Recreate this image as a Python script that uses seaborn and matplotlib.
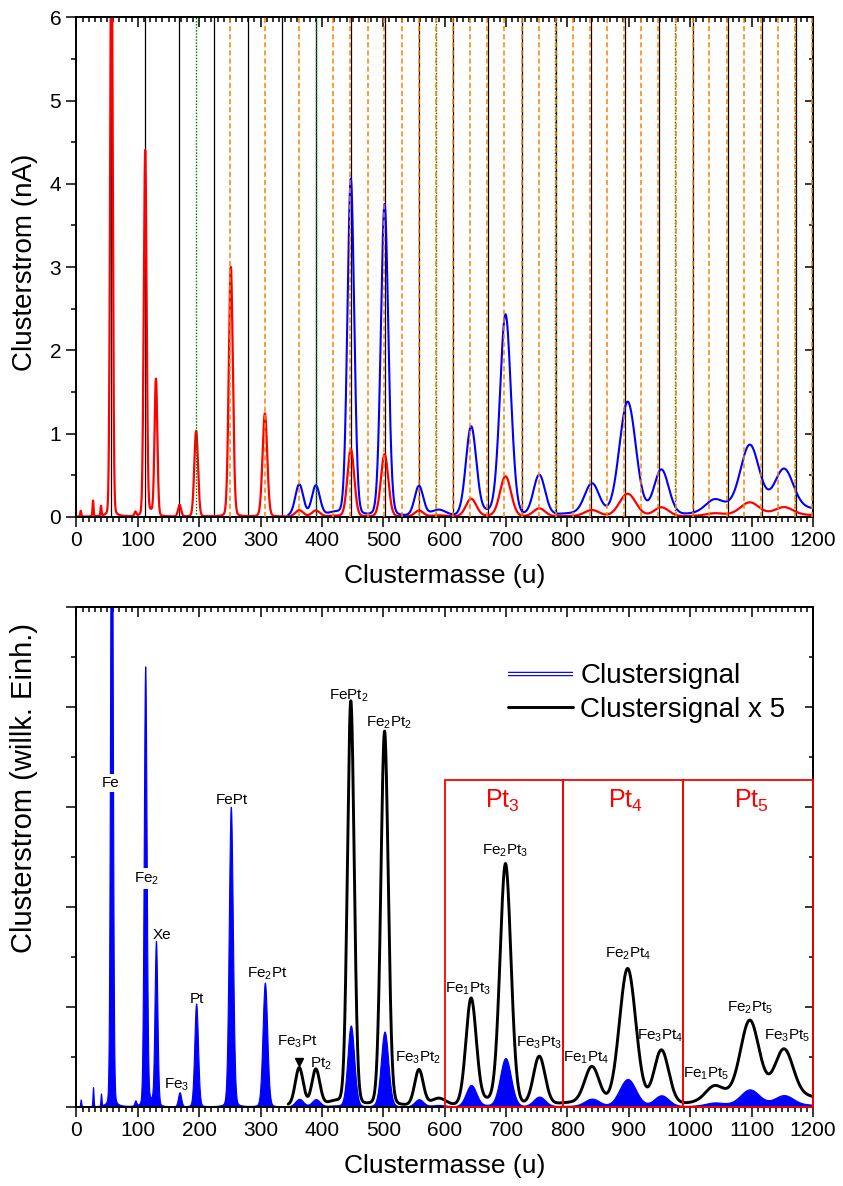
import re

import numpy as np
import pandas as pd
import matplotlib
matplotlib.use("Agg")
import matplotlib.pyplot as plt
import seaborn as sns
from matplotlib.lines import Line2D
from matplotlib.patches import Rectangle
from matplotlib.legend_handler import HandlerTuple
from matplotlib.ticker import MultipleLocator

FE_MASS = 55.845
PT_MASS = 195.084
MAX_MASS = 1200

PEAK_MASS = [7, 27, 40, 57, 96, 112, 121, 129.5, 168, 195, 251.5, 307, 363, 390, 420,
             447, 502, 558, 590, 643, 668, 699, 754, 805, 840, 898, 953, 1039, 1097,
             1153, 1100, 1200]
PEAK_HEIGHT = [0.07, 0.19, 0.12, 7.5, 0.05, 4.4, 0.05, 1.65, 0.14, 1.03, 3.0, 1.24, 0.076,
               0.073, 0.008, 0.81, 0.75, 0.072, 0.015, 0.215, 0.008, 0.485, 0.098, 0.006,
               0.076, 0.275, 0.11, 0.026, 0.148, 0.096, 0.024, 0.012]
PEAK_WIDTH = [0.8, 0.8, 0.8, 2.0, 1.5, 2.3, 3.0, 2.3, 2.5, 3.0, 3.3, 3.8, 6.5, 6.5, 12,
              5.5, 6.0, 7.0, 12, 8.5, 10, 9.0, 9.5, 25, 12, 13.5, 12, 14, 15, 15, 60, 25]
LORENTZ_SHARE = 0.08

SCALED_FROM = 345
SCALE = 5

# peak labels in the lower panel
LABEL_NAMES = ["Fe", "Fe2", "Xe", "Fe3", "Pt", "FePt", "Fe2Pt", "Fe3Pt", "Pt2", "FePt2",
               "Fe2Pt2", "Fe3Pt2", "Fe1Pt3", "Fe2Pt3", "Fe3Pt3", "Fe1Pt4", "Fe2Pt4",
               "Fe3Pt4", "Fe1Pt5", "Fe2Pt5", "Fe3Pt5"]
LABEL_MASS = [56, 114.8, 138.6, 164, 195.7, 253.8, 310.8, 360.3, 397.8, 443, 508.7, 556.5,
              638.5, 698.9, 753.8, 831, 898.4, 951.6, 1026.6, 1097.4, 1157.7]
LABEL_VALUE = [3.20, 2.25, 1.68, 0.18, 1.04, 3.03, 1.29, 0.61, 0.39, 4.08, 3.81, 0.45,
               1.14, 2.53, 0.60, 0.45, 1.49, 0.67, 0.29, 0.95, 0.67]
ARROW_MASS = 363
ARROW_VALUE = 0.45

BOX_EDGES = [600, 792, 988, 1200]
BOX_TOP = 3.27
BOX_NAMES = ["Pt3", "Pt4", "Pt5"]
BOX_TEXT_MASS = [693.5, 894, 1099.5]
BOX_TEXT_VALUE = 2.99


def formula(name):
    return re.sub(r"(\d+)", r"$_\\mathregular{\1}$", name)


def build_spectrum():
    mass = np.arange(0, MAX_MASS + 0.01, 0.2)
    signal = np.zeros_like(mass)
    for c, h, w in zip(PEAK_MASS, PEAK_HEIGHT, PEAK_WIDTH):
        gamma = w * np.sqrt(2 * np.log(2))
        g = np.exp(-0.5 * ((mass - c) / w) ** 2)
        l = 1 / (1 + ((mass - c) / gamma) ** 2)
        signal += h * ((1 - LORENTZ_SHARE) * g + LORENTZ_SHARE * l)
    df = pd.DataFrame({"mass": mass, "signal": signal})
    df["scaled"] = df["signal"] * SCALE
    return df


def reference_lines():
    fe = [n * FE_MASS for n in range(1, 30) if n * FE_MASS <= MAX_MASS + 1]
    pt = [m * PT_MASS for m in range(1, 10) if m * PT_MASS <= MAX_MASS + 1]
    mixed = sorted(n * FE_MASS + m * PT_MASS for m in range(1, 10) for n in range(1, 30)
                   if n * FE_MASS + m * PT_MASS <= MAX_MASS + 1)
    # combinations closer than ~1 px would just stack into one thick line
    kept = []
    for x in mixed:
        if not kept or x - kept[-1] > 1.8:
            kept.append(x)
    return fe, pt, kept


def style_axis(ax, ymax):
    ax.set_xlim(0, MAX_MASS)
    ax.set_ylim(0, ymax)
    ax.xaxis.set_major_locator(MultipleLocator(100))
    ax.xaxis.set_minor_locator(MultipleLocator(10))
    ax.yaxis.set_major_locator(MultipleLocator(1))
    ax.yaxis.set_minor_locator(MultipleLocator(0.5))
    ax.tick_params(which="both", direction="out", width=1.1, colors="black")
    ax.tick_params(which="major", length=7)
    ax.tick_params(which="minor", length=3.6)
    ax.tick_params(axis="x", pad=3, labelsize=15)
    ax.tick_params(axis="y", pad=4, labelsize=15)
    for s in ax.spines.values():
        s.set_visible(True)
        s.set_linewidth(1.4)
        s.set_color("black")
    top = ax.secondary_xaxis("top")
    top.xaxis.set_major_locator(MultipleLocator(100))
    top.xaxis.set_minor_locator(MultipleLocator(10))
    top.tick_params(which="both", direction="in", width=1.1, labeltop=False)
    top.tick_params(which="major", length=7)
    top.tick_params(which="minor", length=3.6)
    right = ax.secondary_yaxis("right")
    right.yaxis.set_major_locator(MultipleLocator(1))
    right.yaxis.set_minor_locator(MultipleLocator(0.5))
    right.tick_params(which="both", direction="in", width=1.1, labelright=False)
    right.tick_params(which="major", length=6)
    right.tick_params(which="minor", length=3)
    for sec in (top, right):
        for s in sec.spines.values():
            s.set_linewidth(1.4)
    ax.set_xlabel("Clustermasse (u)", fontsize=19)
    ax.xaxis.set_label_coords(0.5, -0.095)
    ax.grid(False)


def main():
    sns.set_style("ticks")
    plt.rcParams["font.family"] = ["Liberation Sans", "DejaVu Sans"]
    plt.rcParams["mathtext.fontset"] = "custom"
    plt.rcParams["mathtext.rm"] = "Liberation Sans"
    plt.rcParams.update({"text.color": "black", "axes.labelcolor": "black",
                         "xtick.color": "black", "ytick.color": "black"})

    df = build_spectrum()
    scaled = df[df["mass"] >= SCALED_FROM]
    fe_lines, pt_lines, mixed_lines = reference_lines()

    fig = plt.figure(figsize=(8.43, 11.86), dpi=100)
    ax_top = fig.add_axes([0.0907, 0.5643, 0.8737, 0.4211])
    ax_bot = fig.add_axes([0.0907, 0.0669, 0.8737, 0.4213])

    # upper panel: current with reference masses
    for x in fe_lines:
        ax_top.axvline(x, color="black", lw=0.9, zorder=1)
    sns.lineplot(data=df, x="mass", y="signal", ax=ax_top, color="red", lw=1.6,
                 estimator=None, sort=False, zorder=2)
    sns.lineplot(data=scaled, x="mass", y="scaled", ax=ax_top, color="blue", lw=1.5,
                 estimator=None, sort=False, zorder=2)
    for x in pt_lines:
        ax_top.axvline(x, color="#008000", lw=1.0, ls=(0, (1.1, 1.1)), zorder=3)
    for x in mixed_lines:
        ax_top.axvline(x, color="#FF8000", lw=1.1, ls=(0, (3.3, 2.0)), zorder=3)
    style_axis(ax_top, 6)
    ax_top.set_ylabel("Clusterstrom (nA)", fontsize=20)
    ax_top.yaxis.set_label_coords(-0.052, 0.51)

    # lower panel: assigned spectrum
    ax_bot.fill_between(df["mass"], 0, df["signal"], color="blue", ec="blue", lw=0.8,
                        zorder=2)
    sns.lineplot(data=scaled, x="mass", y="scaled", ax=ax_bot, color="black", lw=2.1,
                 estimator=None, sort=False, zorder=3)
    for i, name in enumerate(BOX_NAMES):
        ax_bot.add_patch(Rectangle((BOX_EDGES[i], 0), BOX_EDGES[i + 1] - BOX_EDGES[i], BOX_TOP,
                                   fill=False, ec="red", lw=1.3, zorder=4, clip_on=False))
        ax_bot.text(BOX_TEXT_MASS[i], BOX_TEXT_VALUE, formula(name), color="red",
                    fontsize=18, ha="center", va="baseline", zorder=5)
    for name, x, y in zip(LABEL_NAMES, LABEL_MASS, LABEL_VALUE):
        kw = {}
        if name in ("Fe", "Fe2"):
            kw["bbox"] = dict(fc="white", ec="none", pad=1.5)
        ax_bot.text(x, y, formula(name), fontsize=11, ha="center", va="baseline",
                    zorder=5, **kw)
    ax_bot.plot([ARROW_MASS], [ARROW_VALUE], marker="v", color="black", ms=5.5, zorder=5)

    # area entry drawn as a thin blue outline: wide blue line with a white core
    h_signal = (Line2D([], [], color="blue", lw=3.2, solid_capstyle="butt"),
                Line2D([], [], color="white", lw=1.5, solid_capstyle="butt"))
    h_scaled = Line2D([], [], color="black", lw=2.1)
    ax_bot.legend([h_signal, h_scaled], ["Clustersignal", "Clustersignal x 5"],
                  handler_map={tuple: HandlerTuple(ndivide=1)}, loc="upper left",
                  bbox_to_anchor=(0.586, 0.887), frameon=False, fontsize=20,
                  handlelength=2.35, handletextpad=0.25, labelspacing=0.27,
                  borderpad=0, borderaxespad=0)
    style_axis(ax_bot, 5)
    ax_bot.tick_params(axis="y", labelleft=False)
    ax_bot.set_ylabel("Clusterstrom (willk. Einh.)", fontsize=21)
    ax_bot.yaxis.set_label_coords(-0.052, 0.638)

    fig.savefig("out.png", dpi=100)
    plt.close(fig)


if __name__ == "__main__":
    main()
